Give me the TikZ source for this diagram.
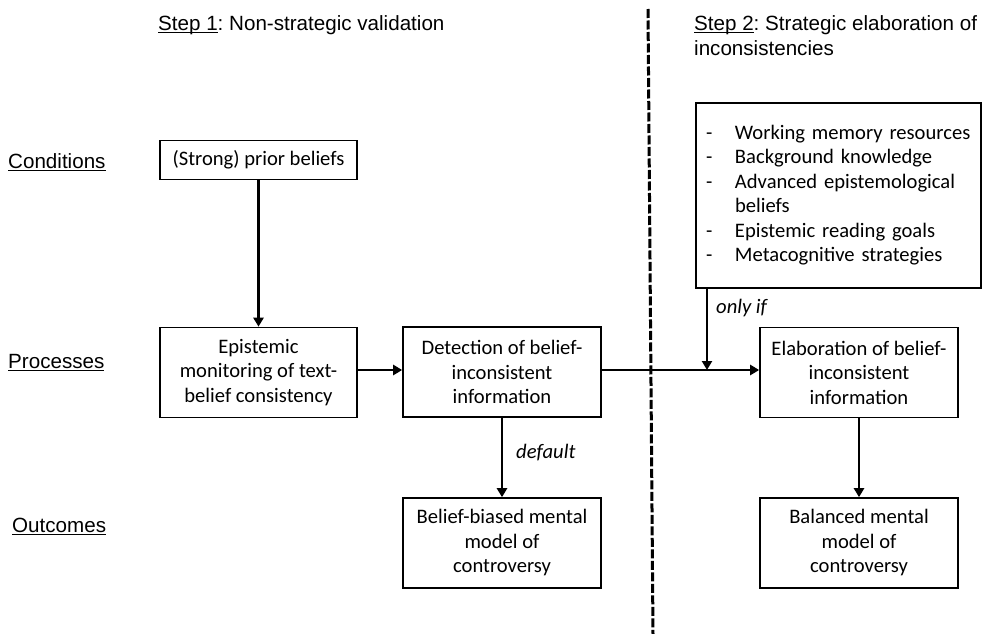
\documentclass[tikz,border=0pt]{standalone}
\usepackage{fontspec}
\setmainfont{Carlito}
\newfontfamily\arialf{Liberation Sans}
\usetikzlibrary{arrows.meta}
\frenchspacing
\newcommand\boxfont{\fontsize{20.6}{24.5}\selectfont}
\newcommand\hdrfont{\arialf\fontsize{20.6}{25}\selectfont}
\newcommand\myul[1]{\setbox0\hbox{#1}\rlap{\rule[-2.4pt]{\wd0}{1.1pt}}\box0}
\begin{document}
\begin{tikzpicture}[x=1pt,y=-1pt,
  box/.style={draw,line width=1.6pt,align=center,inner sep=0pt,
    minimum width=198pt,minimum height=90pt,font=\boxfont},
  arr/.style={line width=2.6pt,-{Triangle[length=9pt,width=10pt]}},
  hdr/.style={font=\hdrfont,inner sep=0pt},
  lbl/.style={font=\boxfont\itshape,inner sep=0pt}]
\useasboundingbox (0,0) rectangle (986,634);

% headers
\node[hdr,anchor=west] (h1) at (158,25) {\myul{Step 1}: Non-strategic validation};
\node[hdr,anchor=west,align=left] (h2) at (694,35.5) {\myul{Step 2}: Strategic elaboration of\\inconsistencies};

% row labels
\node[hdr,anchor=west] (rc) at (8,162) {\myul{Conditions}};
\node[hdr,anchor=west] (rp) at (8,363) {\myul{Processes}};
\node[hdr,anchor=west] (ro) at (12,527) {\myul{Outcomes}};

% divider
\coordinate (dtop) at (648,9);
\coordinate (dbot) at (653,634);
\draw[line width=3pt,dash pattern=on 9pt off 2.5pt] (dtop) -- (dbot);

% boxes
\node[box,minimum width=197pt,minimum height=39pt] (prior) at (258.5,160) {(Strong) prior beliefs};
\node[box,minimum width=197pt] (epi) at (258.5,372.5) {Epistemic\\monitoring of text-\\belief consistency};
\node[box] (det) at (502,372) {Detection of belief-\\inconsistent\\information};
\node[box] (elab) at (859,372.5) {Elaboration of belief-\\inconsistent\\information};
\node[box] (bias) at (502,543) {Belief-biased mental\\model of\\controversy};
\node[box] (bal) at (859,543) {Balanced mental\\model of\\controversy};
\node[draw,line width=1.6pt,minimum width=285pt,minimum height=185pt,inner xsep=10pt,inner ysep=0pt,
  text width=265pt,align=left,font=\boxfont] (cond) at (838.5,195.5)
  {\begin{tabular}{@{}p{29pt}@{}l@{}}
  - & Working memory resources\\
  - & Background knowledge\\
  - & Advanced epistemological\\
    & beliefs\\
  - & Epistemic reading goals\\
  - & Metacognitive strategies
  \end{tabular}};

% connectors
\draw[arr] (prior.south) -- (epi.north);
\draw[arr] (epi.east |- 0,370) -- (det.west |- 0,370);
\coordinate (join) at (707,370);
\draw[arr] (det.east |- join) -- (elab.west |- join);
\draw[arr] (join |- cond.south) -- (join);
\draw[arr] (det.south) -- (bias.north);
\draw[arr] (elab.south) -- (bal.north);

% connector labels
\node[lbl,anchor=west] (dl) at (516,453) {default};
\node[lbl,anchor=west] (ol) at (716,308) {only if};
\end{tikzpicture}
\end{document}
